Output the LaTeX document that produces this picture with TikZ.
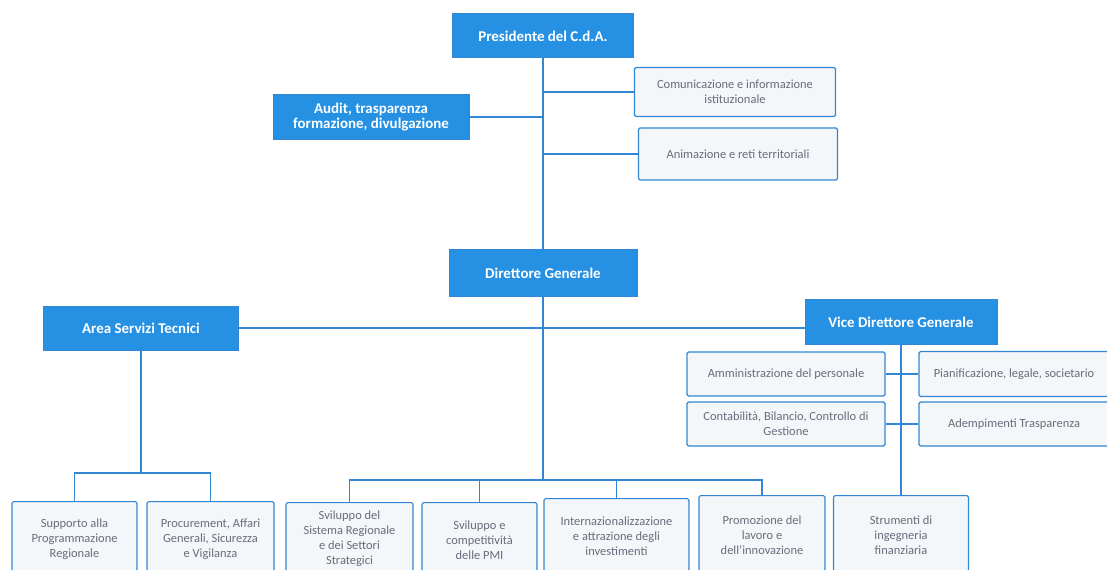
\documentclass[tikz,border=0pt]{standalone}
\usepackage{fontspec}
\setmainfont{Carlito}
\usetikzlibrary{positioning}
\definecolor{bluscuro}{RGB}{38,145,226}
\definecolor{blulinea}{RGB}{50,134,210}
\definecolor{grigiotesto}{RGB}{105,108,122}
\definecolor{fondochiaro}{RGB}{244,247,250}
\tikzset{
    %Define style for filled boxes
    capo/.style={
           rectangle,
           fill=bluscuro,
           draw=blulinea, line width=1pt,
           text=white,
           font=\bfseries\fontsize{15}{16}\selectfont,
           align=center,
           inner sep=2pt},
    %Define style for light boxes
    ufficio/.style={
           rectangle,
           rounded corners=1.5pt,
           fill=fondochiaro,
           draw=blulinea, line width=1.1pt,
           text=grigiotesto,
           font=\fontsize{12.5}{15}\selectfont,
           align=center,
           inner sep=2pt},
    % Define line style
    linea/.style={
           draw=blulinea,
           line width=1.1pt}
}
\begin{document}
\begin{tikzpicture}[x=1bp,y=-1bp]
\useasboundingbox (0,0) rectangle (1107,570);
\clip (0,0) rectangle (1107,570);
 %top
\node[capo, minimum width=181bp, minimum height=44bp] (pres) at (543,36) {Presidente del C.d.A.};
\node[ufficio, minimum width=201bp, minimum height=49bp] (com) at (735,92) {Comunicazione e informazione\\istituzionale};
\node[ufficio, minimum width=199bp, minimum height=52bp] (anim) at (738,154) {Animazione e reti territoriali};
\node[capo, minimum width=196bp, minimum height=45bp] (audit) at (371,117) {Audit, trasparenza\\formazione, divulgazione};
\node[capo, minimum width=188bp, minimum height=47bp] (dg) at (543,273) {Direttore Generale};
 %middle
\node[capo, minimum width=195bp, minimum height=44bp] (ast) at (141,328) {Area Servizi Tecnici};
\node[capo, minimum width=192bp, minimum height=45bp] (vdg) at (901,322) {Vice Direttore Generale};
\node[ufficio, minimum width=198bp, minimum height=44bp] (amm) at (786,374) {Amministrazione del personale};
\node[ufficio, minimum width=198bp, minimum height=44bp] (cont) at (786,424) {Contabilità, Bilancio, Controllo di\\Gestione};
\node[ufficio, minimum width=190bp, minimum height=45bp] (pian) at (1014,374) {Pianificazione, legale, societario};
\node[ufficio, minimum width=190bp, minimum height=44bp] (adem) at (1014,424) {Adempimenti Trasparenza};
 %bottom
\node[ufficio, anchor=north, minimum width=125bp, minimum height=76bp] (sup) at (74.5,501) {Supporto alla\\Programmazione\\Regionale};
\node[ufficio, anchor=north, minimum width=127bp, minimum height=76bp] (proc) at (210.5,501) {Procurement, Affari\\Generali, Sicurezza\\e Vigilanza};
\node[ufficio, anchor=north, minimum width=127bp, minimum height=72bp] (svs) at (349.5,502) {Sviluppo del\\Sistema Regionale\\e dei Settori\\Strategici};
\node[ufficio, anchor=north, minimum width=115bp, minimum height=76bp] (svp) at (479.5,502) {Sviluppo e\\competitività\\delle PMI};
\node[ufficio, anchor=north, minimum width=145bp, minimum height=76bp] (int) at (616.5,498) {Internazionalizzazione\\e attrazione degli\\investimenti};
\node[ufficio, anchor=north, minimum width=126bp, minimum height=80bp] (prom) at (762,495) {Promozione del\\lavoro e\\dell'innovazione};
\node[ufficio, anchor=north, minimum width=135bp, minimum height=80bp] (stru) at (901,495) {Strumenti di\\ingegneria\\finanziaria};

\coordinate (busc) at (543,480);
\coordinate (busl) at (141,473);

 %connectors
\draw[linea] (pres.south) -- (dg.north);
\draw[linea] (com.west) -- (com.west -| pres.south);
\draw[linea] (anim.west) -- (anim.west -| pres.south);
\draw[linea] (audit.east) -- (audit.east -| pres.south);
\draw[linea] (ast.east) -- (ast.east -| vdg.west);
\draw[linea] (dg.south) -- (busc);
\draw[linea] (svs.north) |- (busc) -| (prom.north);
\draw[linea] (svp.north) -- (svp.north |- busc);
\draw[linea] (int.north) -- (int.north |- busc);
\draw[linea] (ast.south) -- (busl);
\draw[linea] (sup.north) |- (busl) -| (proc.north);
\draw[linea] (vdg.south) -- (stru.north);
\draw[linea] (amm.east) -- (pian.west);
\draw[linea] (cont.east) -- (adem.west);
\end{tikzpicture}
\end{document}
